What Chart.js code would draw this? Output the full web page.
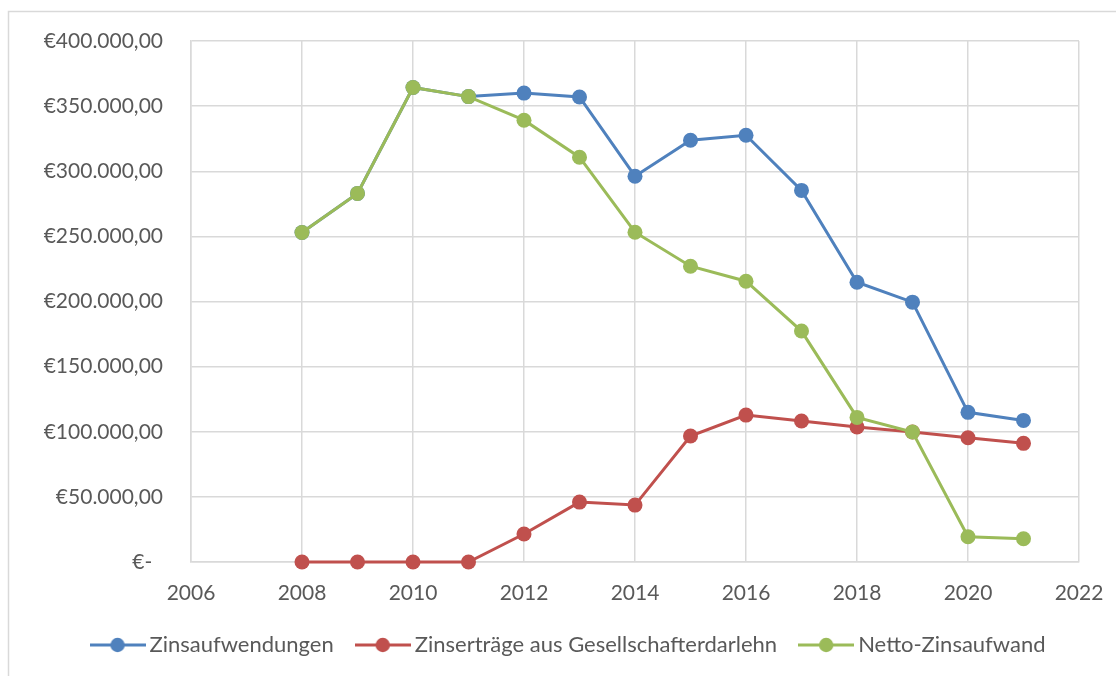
<!DOCTYPE html>
<html>
<head>
<meta charset="utf-8">
<script src="https://cdn.jsdelivr.net/npm/chart.js@4.4.1/dist/chart.umd.min.js"></script>
<style>
html,body{margin:0;padding:0;background:#fff;}
#wrap{width:1116px;height:676px;position:relative;}
</style>
</head>
<body>
<div id="wrap"><canvas id="c" width="1116" height="676"></canvas></div>
<script>
const years = [2008, 2009, 2010, 2011, 2012, 2013, 2014, 2015, 2016, 2017, 2018, 2019, 2020, 2021];
const zinsaufwendungen = [253000, 283000, 364300, 357300, 360000, 357000, 296200, 323800, 327600, 285300, 214800, 199500, 114900, 108700];
const zinsertraege = [0, 0, 0, 0, 21500, 46000, 43700, 96700, 112800, 108200, 103600, 99800, 95400, 91100];
const nettoZinsaufwand = [253000, 283000, 364300, 357300, 339200, 310800, 253200, 227100, 215600, 177300, 111000, 99800, 19400, 17900];
const seriesNames = ['Zinsaufwendungen', 'Zinserträge aus Gesellschafterdarlehn', 'Netto-Zinsaufwand'];
const xTicks = { min: 2006, max: 2022, step: 2 };
const yTicks = { min: 0, max: 400000, step: 50000 };

const COLORS = ['#4F81BD', '#C0504D', '#9BBB59'];
const FONT = 'Lato';
const TEXT = '#595959';
const GRID = '#D9D9D9';
const FS = 21;
const LFS = 22;

function legendImage(color) {
  const cv = document.createElement('canvas');
  cv.width = 56; cv.height = 16;
  const g = cv.getContext('2d');
  g.strokeStyle = color; g.lineWidth = 3;
  g.beginPath(); g.moveTo(0, 8); g.lineTo(56, 8); g.stroke();
  g.fillStyle = color;
  g.beginPath(); g.arc(28, 8, 7.2, 0, Math.PI * 2); g.fill();
  return cv;
}
const legendImgs = COLORS.map(legendImage);

function pts(vals) { return years.map((y, i) => ({ x: y, y: vals[i] })); }

function euro(v) {
  if (v === 0) return '€-  ';
  return '€' + v.toLocaleString('de-DE', { minimumFractionDigits: 2, maximumFractionDigits: 2 });
}

const seriesData = [zinsaufwendungen, zinsertraege, nettoZinsaufwand];
// index 0 in the array is drawn on top, so put green first and reverse the legend
const datasets = [2, 1, 0].map(i => ({
  label: seriesNames[i],
  data: pts(seriesData[i]),
  borderColor: COLORS[i],
  backgroundColor: COLORS[i],
  borderWidth: 3,
  pointRadius: 7.5,
  pointHoverRadius: 7.5,
  pointBorderWidth: 0,
  pointBackgroundColor: COLORS[i],
  tension: 0,
  clip: false,
  seriesIndex: i
}));

const frame = {
  id: 'frame',
  beforeDraw(chart) {
    const ctx = chart.ctx;
    ctx.save();
    ctx.strokeStyle = GRID;
    ctx.lineWidth = 1.5;
    ctx.beginPath();
    ctx.moveTo(8.5, 676); ctx.lineTo(8.5, 11.5); ctx.lineTo(1116, 11.5);
    ctx.stroke();
    ctx.restore();
  }
};

new Chart(document.getElementById('c'), {
  type: 'line',
  data: { datasets },
  plugins: [frame],
  options: {
    responsive: false,
    animation: false,
    events: [],
    layout: { padding: { left: 26, right: 0, top: 41, bottom: 10 } },
    plugins: {
      tooltip: { enabled: false },
      legend: {
        position: 'bottom',
        reverse: true,
        labels: {
          usePointStyle: true,
          pointStyleWidth: 42,
          padding: 28,
          color: TEXT,
          font: { family: FONT, size: LFS },
          generateLabels(chart) {
            const items = Chart.defaults.plugins.legend.labels.generateLabels(chart);
            items.forEach(it => {
              const ds = chart.data.datasets[it.datasetIndex];
              it.pointStyle = legendImgs[ds.seriesIndex];
            });
            return items;
          }
        }
      }
    },
    scales: {
      x: {
        type: 'linear',
        min: xTicks.min, max: xTicks.max,
        ticks: {
          stepSize: xTicks.step,
          color: TEXT,
          font: { family: FONT, size: FS },
          padding: 19,
          callback: v => String(v)
        },
        grid: { color: GRID, lineWidth: 1.5, drawTicks: false },
        border: { color: GRID, width: 1.5 },
        afterFit(s) { s.height = 44; s.paddingLeft = 0; s.paddingRight = 0; }
      },
      y: {
        min: yTicks.min, max: yTicks.max,
        ticks: {
          stepSize: yTicks.step,
          color: TEXT,
          font: { family: FONT, size: FS },
          padding: 28,
          callback: v => euro(v)
        },
        grid: { color: GRID, lineWidth: 1.5, drawTicks: false },
        border: { color: GRID, width: 1.5 },
        afterFit(s) { s.width = 165; }
      },
      y2: {
        position: 'right',
        display: true,
        ticks: { display: false },
        grid: { display: false, drawTicks: false },
        border: { display: false },
        afterFit(s) { s.width = 37; }
      }
    }
  }
});
</script>
</body>
</html>
